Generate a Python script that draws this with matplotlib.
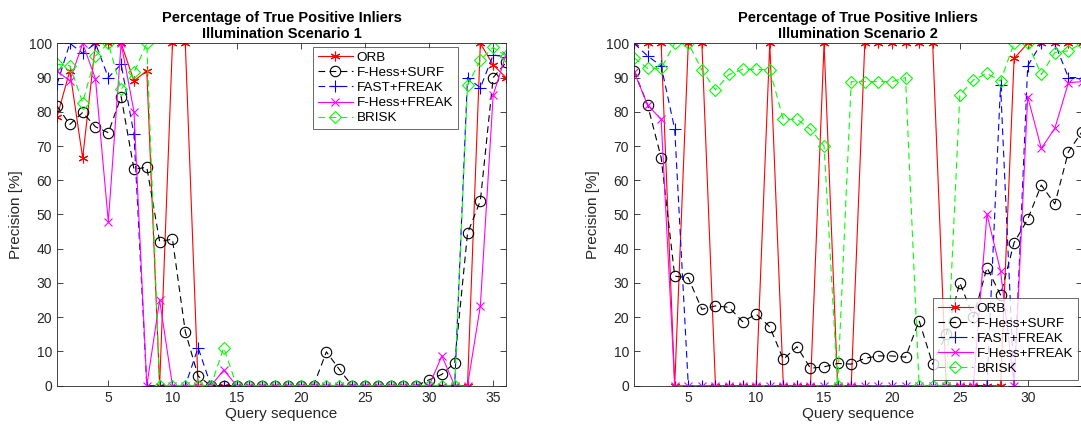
import matplotlib
matplotlib.use("Agg")
import matplotlib.pyplot as plt
import numpy as np

plt.rcParams['font.family'] = ['Liberation Sans', 'DejaVu Sans']

# ---------------- data ----------------
series_names = ["ORB", "F-Hess+SURF", "FAST+FREAK", "F-Hess+FREAK", "BRISK"]

# Illumination Scenario 1 (queries 1..36)
s1_orb = [78.5, 92, 66.5, 100, 100, 100, 89, 92, 0, 100, 100, 0, 0, 0, 0, 0, 0, 0,
          0, 0, 0, 0, 0, 0, 0, 0, 0, 0, 0, 0, 0, 0, 0, 100, 93.7, 90]
s1_surf = [81.7, 76.3, 79.8, 75.6, 73.9, 84.4, 63.2, 63.8, 42.1, 42.8, 15.8, 2.8, 0, 0,
           0, 0, 0, 0, 0, 0, 0, 9.9, 4.8, 0, 0, 0, 0, 0, 0, 1.7, 3.3, 6.7, 44.5, 54,
           90, 94.4]
s1_fast = [88, 100, 97.1, 100, 90, 93.9, 73.4, 0, 0, 0, 0, 11.1, 0, 0, 0, 0, 0, 0, 0,
           0, 0, 0, 0, 0, 0, 0, 0, 0, 0, 0, 0, 0, 90, 87, 96.6, 96]
s1_fhfr = [91.9, 89, 100, 89.6, 47.9, 100, 80, 0, 25, 0, 0, 0, 0, 4.6, 0, 0, 0, 0, 0,
           0, 0, 0, 0, 0, 0, 0, 0, 0, 0, 0, 8.7, 0, 0, 23.3, 84.9, 96.6]
s1_brisk = [93.9, 93.5, 82.7, 96.3, 100, 86.6, 91.5, 100, 0, 0, 0, 0, 0, 11.1, 0, 0,
            0, 0, 0, 0, 0, 0, 0, 0, 0, 0, 0, 0, 0, 0, 0, 0, 87.8, 95.1, 98.8, 96.3]

# Illumination Scenario 2 (queries 1..34)
s2_orb = [100, 100, 100, 0, 100, 100, 0, 0, 0, 0, 100, 0, 0, 0, 100, 0, 0, 100, 100,
          100, 100, 100, 100, 0, 0, 0, 0, 0, 95.6, 100, 100, 100, 100, 100]
s2_surf = [92, 82, 66.6, 32, 31.5, 22.3, 23.3, 22.9, 18.7, 20.9, 17.2, 7.7, 11.4, 5.1,
           5.5, 6.5, 6.3, 8.0, 8.7, 8.7, 8.3, 19.0, 6.3, 15, 30.1, 20, 34.5, 26.5,
           41.8, 48.6, 58.6, 53.1, 68.3, 74.2]
s2_fast = [100, 96.3, 93.4, 74.9, 0, 0, 0, 0, 0, 0, 0, 0, 0, 0, 0, 0, 0, 0, 0, 0, 0,
           0, 0, 0, 0, 0, 0, 87.8, 0, 93.4, 100, 100, 90, 90]
s2_fhfr = [91.7, 82, 77.8, 0, 0, 0, 0, 0, 0, 0, 0, 0, 0, 0, 0, 0, 0, 0, 0, 0, 0, 0,
           0, 0, 0, 0, 50.1, 33.5, 0, 84.4, 69.3, 75.2, 88.5, 88.8]
s2_brisk = [95.8, 92.7, 92.7, 100, 100, 92.2, 86.4, 90.9, 92.4, 92.4, 92.2, 77.8, 77.8,
            74.9, 70, 0, 88.8, 88.8, 88.8, 88.8, 90, 0, 0, 0, 84.9, 89.3, 91.2, 89,
            100, 100, 90.9, 97.3, 97.8, 100]

titles = ["Percentage of True Positive Inliers\nIllumination Scenario 1",
          "Percentage of True Positive Inliers\nIllumination Scenario 2"]
xlabel = "Query sequence"
ylabel = "Precision [%]"

# ---------------- styles ----------------
styles = [
    dict(color=(1, 0, 0), linestyle='-', marker=(6, 2, 0), markersize=7, mfc='none'),
    dict(color=(0, 0, 0), linestyle=(0, (6, 4)), marker='o', markersize=7.5, mfc='none'),
    dict(color=(0, 0, 1), linestyle=(0, (6, 4)), marker='+', markersize=8, mfc='none'),
    dict(color=(1, 0, 1), linestyle='-', marker='x', markersize=5.5, mfc='none'),
    dict(color=(0, 1, 0), linestyle=(0, (6, 4)), marker='D', markersize=6, mfc='none'),
]

W, H = 1081, 436
fig = plt.figure(figsize=(W / 100, H / 100), dpi=100)

axc = '#262626'


def px_axes(x0, x1, ytop, ybot):
    return [x0 / W, 1 - ybot / H, (x1 - x0) / W, (ybot - ytop) / H]


ax1 = fig.add_axes(px_axes(57, 506, 43.3, 385.7))
ax2 = fig.add_axes(px_axes(634, 1082, 43.3, 385.7))

data_sets = [
    [s1_orb, s1_surf, s1_fast, s1_fhfr, s1_brisk],
    [s2_orb, s2_surf, s2_fast, s2_fhfr, s2_brisk],
]
xlims = [(1, 36), (1, 34)]
xticks = [[5, 10, 15, 20, 25, 30, 35], [5, 10, 15, 20, 25, 30]]

for i, ax in enumerate([ax1, ax2]):
    for name, vals, st in zip(series_names, data_sets[i], styles):
        x = np.arange(1, len(vals) + 1)
        ax.plot(x, vals, label=name, linewidth=0.8, color=st['color'],
                linestyle=st['linestyle'], marker=st['marker'],
                markersize=st['markersize'], markerfacecolor=st['mfc'],
                markeredgecolor=st['color'], markeredgewidth=0.8, clip_on=True)
    ax.set_xlim(*xlims[i])
    ax.set_ylim(0, 100)
    ax.set_xticks(xticks[i])
    ax.set_yticks(np.arange(0, 101, 10))
    ax.tick_params(direction='in', top=True, right=True, length=4, width=0.6,
                   colors=axc, labelsize=10, labelcolor=axc)
    for sp in ax.spines.values():
        sp.set_color(axc)
        sp.set_linewidth(0.6)
    ax.set_title(titles[i], fontsize=10.5, fontweight='bold', color='black',
                 pad=4, linespacing=1.15)
    ax.set_xlabel(xlabel, fontsize=11, color=axc, labelpad=2)
    ax.set_ylabel(ylabel, fontsize=11, color=axc, labelpad=4)

leg_kw = dict(fontsize=9.7, frameon=True, fancybox=False, edgecolor=axc,
              handlelength=2.6, handletextpad=0.3, borderpad=0.35,
              labelspacing=0.2, borderaxespad=0.0)
l1 = ax1.legend(loc='upper right', bbox_to_anchor=(0.893, 0.990), **leg_kw)
l2 = ax2.legend(loc='lower right', bbox_to_anchor=(0.991, 0.017), **leg_kw)
for l in (l1, l2):
    l.get_frame().set_linewidth(0.6)

fig.savefig("out.png", dpi=100)
